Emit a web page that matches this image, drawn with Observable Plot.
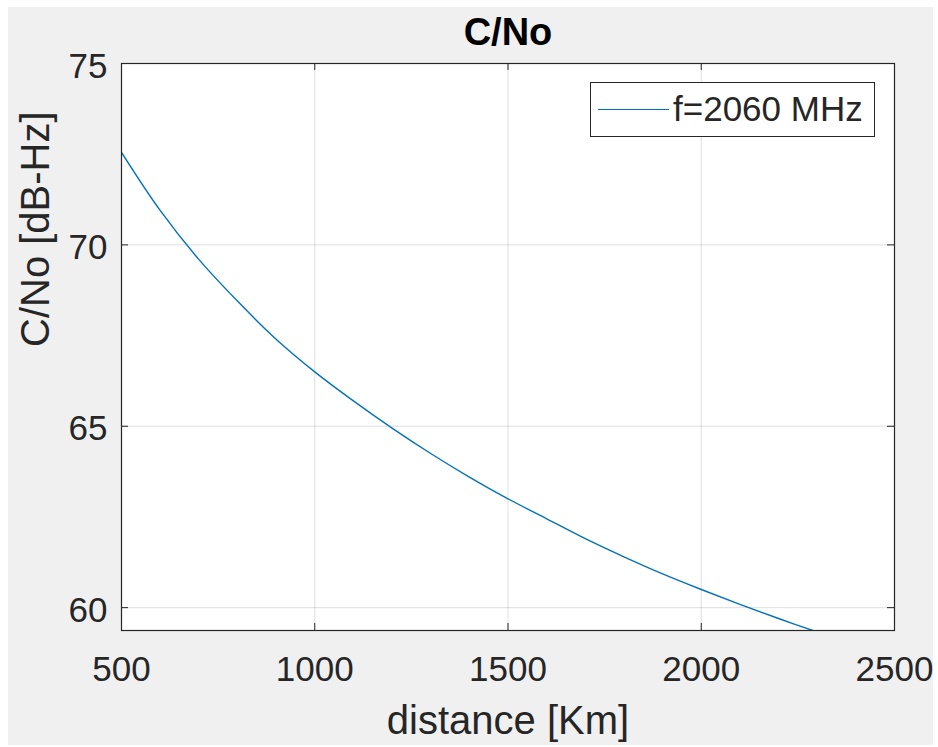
<!DOCTYPE html>
<html>
<head>
<meta charset="utf-8">
<script src="https://cdn.jsdelivr.net/npm/d3@7"></script>
<script src="https://cdn.jsdelivr.net/npm/@observablehq/plot@0.6"></script>
<style>
  html, body { margin: 0; padding: 0; background: #ffffff; }
  #wrap { position: relative; width: 938px; height: 747px; }
  #legend {
    position: absolute; left: 590px; top: 82px; width: 283px; height: 53px;
    border: 1px solid #262626; background: #ffffff; box-sizing: content-box;
    font-family: "Liberation Sans", Arial, sans-serif; font-size: 35px; color: #262626;
  }
  #legend .sw { position: absolute; left: 7px; top: 26px; width: 71px; height: 0; border-top: 1.3px solid #0072bd; }
  #legend .lb { position: absolute; left: 82px; top: 6px; line-height: 40px; white-space: nowrap; }
</style>
</head>
<body>
<div id="wrap"></div>
<script>
const distance = [500, 600, 700, 800, 900, 1000, 1100, 1200, 1300, 1400, 1500, 1600, 1700, 1800, 1900, 2000, 2100, 2200, 2300];
const cno = [72.55, 70.95, 69.6, 68.45, 67.4, 66.5, 65.7, 64.95, 64.25, 63.6, 63.0, 62.45, 61.9, 61.4, 60.93, 60.5, 60.09, 59.7, 59.33];
const xTicks = [500, 1000, 1500, 2000, 2500];
const yTicks = [60, 65, 70, 75];
const seriesName = "f=2060 MHz";
const titleText = "C/No";
const xLabel = "distance [Km]";
const yLabel = "C/No [dB-Hz]";

const data = distance.map((d, i) => ({d, v: cno[i]}));
const ink = "#262626";
const font = "Liberation Sans, Arial, sans-serif";

const chart = Plot.plot({
  width: 938,
  height: 747,
  marginLeft: 121,
  marginRight: 44,
  marginTop: 63,
  marginBottom: 117,
  style: {
    background: "linear-gradient(#f0f0f0,#f0f0f0) 8px 7px / 925px 738px no-repeat, #ffffff",
    fontFamily: font,
    color: ink
  },
  x: {domain: [500, 2500], axis: null},
  y: {domain: [59.37, 75], axis: null},
  marks: [
    Plot.frame({fill: "#ffffff", stroke: null}),
    Plot.gridX(xTicks, {stroke: "#262626", strokeOpacity: 0.15, strokeWidth: 1}),
    Plot.gridY(yTicks, {stroke: "#262626", strokeOpacity: 0.15, strokeWidth: 1}),
    Plot.line(data, {x: "d", y: "v", stroke: "#0072bd", strokeWidth: 1.4, curve: "catmull-rom", clip: true}),
    // inward ticks, all four sides
    Plot.tickX(xTicks, {x: d => d, stroke: ink, insetTop: 560}),
    Plot.tickX(xTicks, {x: d => d, stroke: ink, insetBottom: 560}),
    Plot.tickY(yTicks, {y: d => d, stroke: ink, insetRight: 766}),
    Plot.tickY(yTicks, {y: d => d, stroke: ink, insetLeft: 766}),
    Plot.frame({stroke: ink, strokeWidth: 1.2}),
    // tick labels
    Plot.text(xTicks, {x: d => d, frameAnchor: "bottom", dy: 50, text: d => String(d), fontSize: 35, fill: ink}),
    Plot.text(yTicks, {y: d => d, frameAnchor: "left", dx: -14, dy: 3, textAnchor: "end", text: d => String(d), fontSize: 35, fill: ink}),
    // axis labels
    Plot.text([xLabel], {frameAnchor: "bottom", dy: 103, text: d => d, fontSize: 40, fill: ink}),
    Plot.text([yLabel], {frameAnchor: "left", dx: -85, rotate: -90, text: d => d, fontSize: 40, fill: ink}),
    // title
    Plot.text([titleText], {frameAnchor: "top", dy: -45, text: d => d, fontSize: 38, fontWeight: "bold", fill: "#000000"})
  ]
});

const wrap = document.getElementById("wrap");
wrap.appendChild(chart);
const legend = document.createElement("div");
legend.id = "legend";
legend.innerHTML = `<div class="sw"></div><div class="lb"></div>`;
legend.querySelector(".lb").textContent = seriesName;
wrap.appendChild(legend);
</script>
</body>
</html>
